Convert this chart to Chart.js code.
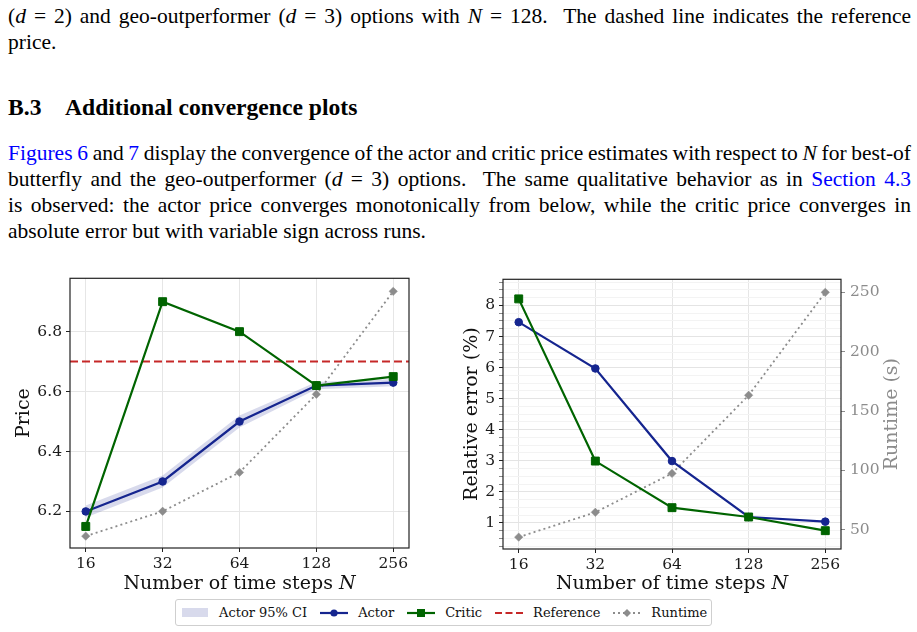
<!DOCTYPE html>
<html><head><meta charset="utf-8">
<script src="https://cdn.jsdelivr.net/npm/chart.js@4.4.1/dist/chart.umd.min.js"></script>
<style>
html,body{margin:0;padding:0;background:#fff;}
body{width:917px;height:632px;position:relative;overflow:hidden;font-family:'Liberation Serif','Times New Roman',serif;color:#000;}
.t{position:absolute;left:8px;width:903px;font-size:21.5px;line-height:26px;}
.j{text-align:justify;text-align-last:justify;word-spacing:-2px;}
.nw{white-space:nowrap;}
a{color:#0000ff;text-decoration:none;}
i{font-style:italic;}
h3{position:absolute;left:8px;top:92px;margin:0;font-size:23.6px;font-weight:bold;line-height:30px;}
#legend{position:absolute;left:175px;top:599px;width:530px;height:25px;border:1px solid #cfcfcf;border-radius:3px;font-family:'DejaVu Serif';font-size:13px;color:#111;display:flex;align-items:center;padding-left:5px;white-space:nowrap;}
#legend .it{display:flex;align-items:center;margin-right:13px;}
#legend .sym{width:28px;height:12px;margin-right:10px;display:flex;align-items:center;justify-content:center;}
canvas{position:absolute;}
</style>
</head><body>
<div class="t j" style="top:3px">(<i>d</i> = 2) and geo-outperformer (<i>d</i> = 3) options with <i>N</i> = 128.&nbsp; The dashed line indicates the reference</div>
<div class="t" style="top:29px">price.</div>
<h3>B.3&nbsp;&nbsp;&nbsp;&nbsp;Additional convergence plots</h3>
<div class="t j" style="top:140px"><a>Figures 6</a> and <a>7</a> display the convergence of the actor and critic price estimates with respect to <i>N</i> for <span class="nw">best-of</span></div>
<div class="t j" style="top:166px">butterfly and the geo-outperformer (<i>d</i> = 3) options.&nbsp; The same qualitative behavior as in <a class="nw">Section 4.3</a></div>
<div class="t j" style="top:192px">is observed: the actor price converges monotonically from below, while the critic price converges in</div>
<div class="t" style="top:218px">absolute error but with variable sign across runs.</div>

<canvas id="c1" width="440" height="330" style="left:0;top:265px"></canvas>
<canvas id="c2" width="462" height="330" style="left:455px;top:265px"></canvas>

<div id="legend">
  <div class="it"><span class="sym"><span style="display:inline-block;width:26px;height:9px;background:rgba(21,37,143,0.17)"></span></span><span>Actor 95% CI</span></div>
  <div class="it"><span class="sym"><svg width="28" height="12"><line x1="0" y1="6" x2="28" y2="6" stroke="#15258f" stroke-width="2.2"/><circle cx="14" cy="6" r="3.6" fill="#15258f"/></svg></span><span>Actor</span></div>
  <div class="it"><span class="sym"><svg width="28" height="12"><line x1="0" y1="6" x2="28" y2="6" stroke="#006400" stroke-width="2.2"/><rect x="10" y="2" width="8" height="8" fill="#006400"/></svg></span><span>Critic</span></div>
  <div class="it"><span class="sym"><svg width="28" height="12"><line x1="0" y1="6" x2="28" y2="6" stroke="#c62828" stroke-width="2" stroke-dasharray="7,3.5"/></svg></span><span>Reference</span></div>
  <div class="it"><span class="sym"><svg width="28" height="12"><line x1="0" y1="6" x2="28" y2="6" stroke="#8c8c8c" stroke-width="1.8" stroke-dasharray="2,3"/><polygon points="14,2 18,6 14,10 10,6" fill="#8c8c8c"/></svg></span><span>Runtime</span></div>
</div>

<script>
// ---- data ----
const N_STEPS = [16, 32, 64, 128, 256];
const ACTOR_PRICE = [6.20, 6.30, 6.50, 6.62, 6.63];
const ACTOR_CI_LOW = [6.180, 6.280, 6.480, 6.608, 6.618];
const ACTOR_CI_HIGH = [6.220, 6.320, 6.520, 6.632, 6.642];
const CRITIC_PRICE = [6.15, 6.90, 6.80, 6.62, 6.65];
const REFERENCE_PRICE = 6.70;
const RUNTIME_S = [43.8, 64.7, 97.5, 163.3, 250.0];
const ACTOR_REL_ERR = [7.46, 5.97, 2.99, 1.19, 1.04];
const CRITIC_REL_ERR = [8.21, 2.99, 1.49, 1.19, 0.75];

// ---- tick labels / axis limits ----
const X_TICKS = [16, 32, 64, 128, 256];
const PRICE_TICKS = [6.2, 6.4, 6.6, 6.8];
const ERR_TICKS = [1, 2, 3, 4, 5, 6, 7, 8];
const ERR_MINOR_STEP = 0.25;
const RUNTIME_TICKS = [50, 100, 150, 200, 250];
const X_MIN = 13.88, X_MAX = 295.1;
const PRICE_MIN = 6.078, PRICE_MAX = 6.978;
const ERR_MIN = 0.16, ERR_MAX = 8.84;
const RUNTIME_MIN = 33.8, RUNTIME_MAX = 261;

const C_ACTOR = '#15258f', C_CRITIC = '#006400', C_REF = '#c62828', C_RUN = '#8c8c8c';
const C_BAND = 'rgba(21,37,143,0.17)';
const INK = '#1a1a1a';
const TICK_SIZE = 15.5, TITLE_SIZE = 19;

Chart.defaults.font.family = "'DejaVu Serif', serif";
Chart.defaults.color = INK;

const pts = (ys) => N_STEPS.map((n, i) => ({x: n, y: ys[i]}));

const framePlugin = {
  id: 'frame',
  afterDatasetsDraw(chart) {
    const {ctx, chartArea: a} = chart;
    ctx.save();
    ctx.strokeStyle = '#222';
    ctx.lineWidth = 1.2;
    ctx.strokeRect(a.left, a.top, a.right - a.left, a.bottom - a.top);
    ctx.restore();
  }
};

// right-hand axis title that reads bottom-to-top like the left one
const rightTitlePlugin = {
  id: 'rightTitle',
  afterDraw(chart, args, opts) {
    const s = chart.scales.yR;
    if (!s || !opts.text) return;
    const {ctx, chartArea: a} = chart;
    ctx.save();
    ctx.font = `${TITLE_SIZE}px 'DejaVu Serif', serif`;
    ctx.fillStyle = opts.color;
    ctx.textAlign = 'center';
    ctx.textBaseline = 'middle';
    ctx.translate(s.right - opts.offset, (a.top + a.bottom) / 2);
    ctx.rotate(-Math.PI / 2);
    ctx.fillText(opts.text, 0, 0);
    ctx.restore();
  }
};

function xScale(h) {
  return {
    type: 'logarithmic', min: X_MIN, max: X_MAX,
    afterBuildTicks: s => { s.ticks = X_TICKS.map(v => ({value: v})); },
    afterFit: s => { s.height = h; },
    ticks: {autoSkip: false, maxRotation: 0, minRotation: 0, padding: 3, font: {size: TICK_SIZE}, color: INK, callback: v => String(v)},
    grid: {color: '#e6e6e6', tickColor: '#222', tickLength: 4},
    border: {display: false},
    title: {display: true, text: 'Number of time steps 𝑁', font: {size: TITLE_SIZE}, color: '#111', padding: {top: 0, bottom: 0}}
  };
}

function lineDs(label, ys, color, shape, radius, axis) {
  return {
    label, data: pts(ys), yAxisID: axis || 'y',
    borderColor: color, backgroundColor: color, borderWidth: 2.2,
    pointStyle: shape, pointRadius: radius, pointHoverRadius: radius,
    pointBackgroundColor: color, pointBorderColor: color, pointBorderWidth: 1,
    tension: 0, fill: false
  };
}

function runtimeDs() {
  return {
    label: 'Runtime', data: pts(RUNTIME_S), yAxisID: 'yR',
    borderColor: C_RUN, backgroundColor: C_RUN, borderWidth: 1.8, borderDash: [2, 3.2],
    pointStyle: 'rectRot', pointRadius: 4.2, pointHoverRadius: 4.2,
    pointBackgroundColor: C_RUN, pointBorderColor: C_RUN, pointBorderWidth: 0.5,
    tension: 0, fill: false
  };
}

// ---------- left chart: price ----------
new Chart(document.getElementById('c1'), {
  type: 'line',
  data: {
    datasets: [
      lineDs('Critic', CRITIC_PRICE, C_CRITIC, 'rect', 5.6),
      lineDs('Actor', ACTOR_PRICE, C_ACTOR, 'circle', 3.8),
      {label: 'Reference', data: [{x: X_MIN, y: REFERENCE_PRICE}, {x: X_MAX, y: REFERENCE_PRICE}],
       borderColor: C_REF, borderWidth: 2, borderDash: [8, 4], pointRadius: 0, fill: false, tension: 0},
      runtimeDs(),
      {label: 'Actor 95% CI', data: pts(ACTOR_CI_HIGH), borderWidth: 0, pointRadius: 0, backgroundColor: C_BAND, fill: '+1', tension: 0},
      {label: 'CI low', data: pts(ACTOR_CI_LOW), borderWidth: 0, pointRadius: 0, fill: false, tension: 0}
    ]
  },
  options: {
    responsive: false, animation: false,
    layout: {padding: {top: 11, right: 31, left: 0, bottom: 0}},
    plugins: {legend: {display: false}, tooltip: {enabled: false}},
    scales: {
      x: xScale(47),
      y: {
        type: 'linear', position: 'left', min: PRICE_MIN, max: PRICE_MAX,
        afterBuildTicks: s => { s.ticks = PRICE_TICKS.map(v => ({value: v})); },
        afterFit: s => { s.width = 70; },
        ticks: {padding: 4, font: {size: TICK_SIZE}, color: INK, callback: v => Number(v).toFixed(1)},
        grid: {color: '#e6e6e6', tickColor: '#222', tickLength: 4},
        border: {display: false},
        title: {display: true, text: 'Price', font: {size: TITLE_SIZE}, color: '#111', padding: {top: 12.6, bottom: 0}}
      },
      yR: {type: 'linear', position: 'right', display: false, min: RUNTIME_MIN, max: RUNTIME_MAX}
    }
  },
  plugins: [framePlugin]
});

// ---------- right chart: relative error + runtime ----------
const ERR_ALL_TICKS = [];
for (let v = ERR_MINOR_STEP; v < ERR_MAX; v += ERR_MINOR_STEP) ERR_ALL_TICKS.push(Math.round(v * 100) / 100);
const isMajor = v => ERR_TICKS.includes(v);

new Chart(document.getElementById('c2'), {
  type: 'line',
  data: {
    datasets: [
      lineDs('Critic', CRITIC_REL_ERR, C_CRITIC, 'rect', 5.6),
      lineDs('Actor', ACTOR_REL_ERR, C_ACTOR, 'circle', 3.8),
      runtimeDs()
    ]
  },
  options: {
    responsive: false, animation: false,
    layout: {padding: {top: 11, right: 0, left: 0, bottom: 0}},
    plugins: {
      legend: {display: false}, tooltip: {enabled: false},
      rightTitle: {text: 'Runtime (s)', color: C_RUN, offset: 25.3}
    },
    scales: {
      x: xScale(46),
      y: {
        type: 'linear', position: 'left', min: ERR_MIN, max: ERR_MAX,
        afterBuildTicks: s => { s.ticks = ERR_ALL_TICKS.map(v => ({value: v})); },
        afterFit: s => { s.width = 48; },
        ticks: {autoSkip: false, padding: 4, font: {size: TICK_SIZE}, color: INK, callback: v => isMajor(v) ? String(v) : ''},
        grid: {
          color: c => (c.tick && isMajor(c.tick.value)) ? '#e4e4e4' : '#f3f3f3',
          tickColor: c => (c.tick && isMajor(c.tick.value)) ? '#222' : '#888',
          tickLength: 4
        },
        border: {display: false},
        title: {display: true, text: 'Relative error (%)', font: {size: TITLE_SIZE}, color: '#111', padding: {top: 5.4, bottom: 0}}
      },
      yR: {
        type: 'linear', position: 'right', min: RUNTIME_MIN, max: RUNTIME_MAX,
        afterBuildTicks: s => { s.ticks = RUNTIME_TICKS.map(v => ({value: v})); },
        afterFit: s => { s.width = 76; },
        ticks: {padding: 5, font: {size: TICK_SIZE}, color: C_RUN},
        grid: {drawOnChartArea: false, tickColor: C_RUN, tickLength: 4},
        border: {display: false},
        title: {display: false, text: 'Runtime (s)'}
      }
    }
  },
  plugins: [framePlugin, rightTitlePlugin]
});
</script>
</body></html>
